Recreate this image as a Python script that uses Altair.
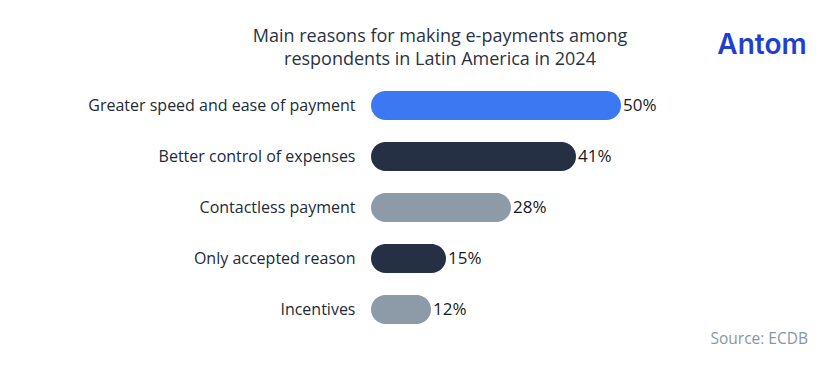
import altair as alt
import pandas as pd

categories = [
    "Greater speed and ease of payment",
    "Better control of expenses",
    "Contactless payment",
    "Only accepted reason",
    "Incentives",
]
values = [50, 41, 28, 15, 12]
labels = ["50%", "41%", "28%", "15%", "12%"]
bar_colors = ["#3b78f1", "#253045", "#8d9aa7", "#253045", "#8d9aa7"]

title_lines = [
    "Main reasons for making e-payments among",
    "respondents in Latin America in 2024",
]
source_text = "Source: ECDB"
logo_text = "Antom"

FONT = "Open Sans"

df = pd.DataFrame({"category": categories, "value": values, "label": labels})

y_enc = alt.Y(
    "category:N",
    sort=categories,
    scale=alt.Scale(paddingInner=0.43, paddingOuter=0.215),
    axis=alt.Axis(
        title=None,
        domain=False,
        ticks=False,
        labelFontSize=16,
        labelFont=FONT,
        labelColor="#222a38",
        labelPadding=16,
        labelLimit=400,
    ),
)
x_enc = alt.X(
    "value:Q",
    scale=alt.Scale(domain=[0, 50], nice=False),
    axis=None,
)

bars = alt.Chart(df).mark_bar(cornerRadius=14.5).encode(
    x=x_enc,
    y=y_enc,
    color=alt.Color(
        "category:N",
        scale=alt.Scale(domain=categories, range=bar_colors),
        legend=None,
    ),
)

text = alt.Chart(df).mark_text(
    align="left", baseline="middle", dx=2, fontSize=17, font=FONT, color="#1a1a1a"
).encode(x=x_enc, y=y_enc, text="label:N")

one = pd.DataFrame({"k": [0]})

t1 = alt.Chart(one).mark_text(
    text=title_lines[0], fontSize=18, font=FONT, color="#2a3344",
    align="center", baseline="middle",
).encode(x=alt.value(69), y=alt.value(-43.5))
t2 = alt.Chart(one).mark_text(
    text=title_lines[1], fontSize=18, font=FONT, color="#2a3344",
    align="center", baseline="middle",
).encode(x=alt.value(69), y=alt.value(-20.5))
logo = alt.Chart(one).mark_text(
    text=logo_text, fontSize=28, font="Inter", fontWeight=600, color="#1f3fcf",
    align="center", baseline="middle",
).encode(x=alt.value(391), y=alt.value(-34.5))
src = alt.Chart(one).mark_text(
    text=source_text, fontSize=15.5, font=FONT, color="#8a96a3",
    align="right", baseline="middle",
).encode(x=alt.value(437), y=alt.value(258.5))

chart = alt.layer(bars, text, t1, t2, logo, src).properties(
    width=250,
    height=255,
    background="white",
    autosize=alt.AutoSizeParams(type="none"),
    padding={"left": 363, "top": 72, "right": 199, "bottom": 25},
).configure_view(strokeWidth=0)

chart.save("out.html", embed_options={"renderer": "svg", "actions": False})
